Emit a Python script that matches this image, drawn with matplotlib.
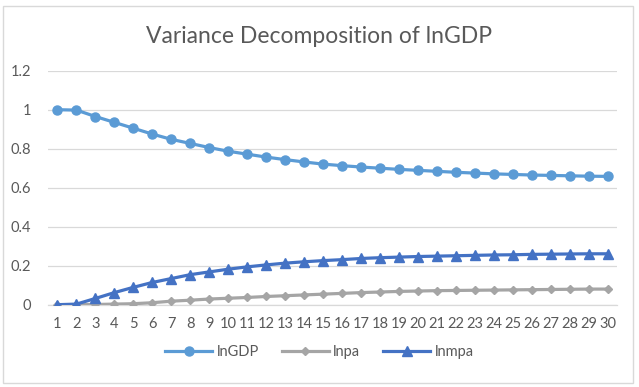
import matplotlib.pyplot as plt
from matplotlib.patches import Rectangle

plt.rcParams['font.family'] = ['Lato', 'DejaVu Sans']

periods = list(range(1, 31))
lngdp = [1.000, 0.998, 0.965, 0.935, 0.905, 0.875, 0.848, 0.827, 0.806, 0.787,
         0.772, 0.757, 0.744, 0.732, 0.721, 0.713, 0.706, 0.700, 0.694, 0.689,
         0.684, 0.679, 0.675, 0.671, 0.668, 0.665, 0.663, 0.661, 0.659, 0.658]
lnpa = [0.000, 0.000, 0.001, 0.003, 0.005, 0.010, 0.018, 0.023, 0.029, 0.033,
        0.037, 0.042, 0.046, 0.050, 0.054, 0.058, 0.062, 0.065, 0.068, 0.070,
        0.072, 0.073, 0.074, 0.075, 0.076, 0.077, 0.078, 0.079, 0.080, 0.080]
lnmpa = [0.000, 0.003, 0.032, 0.062, 0.089, 0.114, 0.134, 0.154, 0.168, 0.182,
         0.194, 0.204, 0.213, 0.220, 0.226, 0.231, 0.237, 0.241, 0.244, 0.247,
         0.249, 0.251, 0.253, 0.255, 0.256, 0.258, 0.259, 0.260, 0.261, 0.261]

text_col = '#595959'
grid_col = '#D9D9D9'

fig = plt.figure(figsize=(6.39, 3.87), dpi=100)
ax = fig.add_axes([0.0751, 0.2127, 0.8905, 0.6046])

x = list(range(len(periods)))
ax.plot(x, lngdp, color='#5B9BD5', lw=2.3, marker='o', ms=6.5, label='lnGDP', zorder=3)
ax.plot(x, lnpa, color='#A5A5A5', lw=2.3, marker='D', ms=4.5, label='lnpa', zorder=3)
ax.plot(x, lnmpa, color='#4472C4', lw=2.3, marker='^', ms=6.5, label='lnmpa', zorder=4)

ax.set_xlim(-0.5, len(periods) - 0.5)
ax.set_ylim(0, 1.2)
ax.set_xticks(x)
ax.set_xticklabels([str(p) for p in periods])
ax.set_yticks([0, 0.2, 0.4, 0.6, 0.8, 1, 1.2])
ax.set_yticklabels(['0', '0.2', '0.4', '0.6', '0.8', '1', '1.2'])
ax.tick_params(length=0, colors=text_col, labelsize=10.5)
ax.tick_params(axis='x', pad=9)
ax.tick_params(axis='y', pad=12)
ax.grid(axis='y', color=grid_col, lw=0.9)
ax.set_axisbelow(True)
for s in ['top', 'right', 'left']:
    ax.spines[s].set_visible(False)
ax.spines['bottom'].set_color(grid_col)
ax.spines['bottom'].set_linewidth(0.9)

fig.text(0.5, 0.905, 'Variance Decomposition of lnGDP', ha='center', va='center',
         fontsize=16.5, color=text_col)

fig.legend(loc='center', bbox_to_anchor=(0.5, 0.09), ncol=3, frameon=False,
           fontsize=10.5, labelcolor=text_col, handlelength=3.2,
           handletextpad=0.3, columnspacing=1.6)

fig.patches.append(Rectangle((0.005, 0.01), 0.985, 0.975, transform=fig.transFigure,
                             fill=False, edgecolor=grid_col, lw=1))

fig.savefig('out.png', dpi=100)
